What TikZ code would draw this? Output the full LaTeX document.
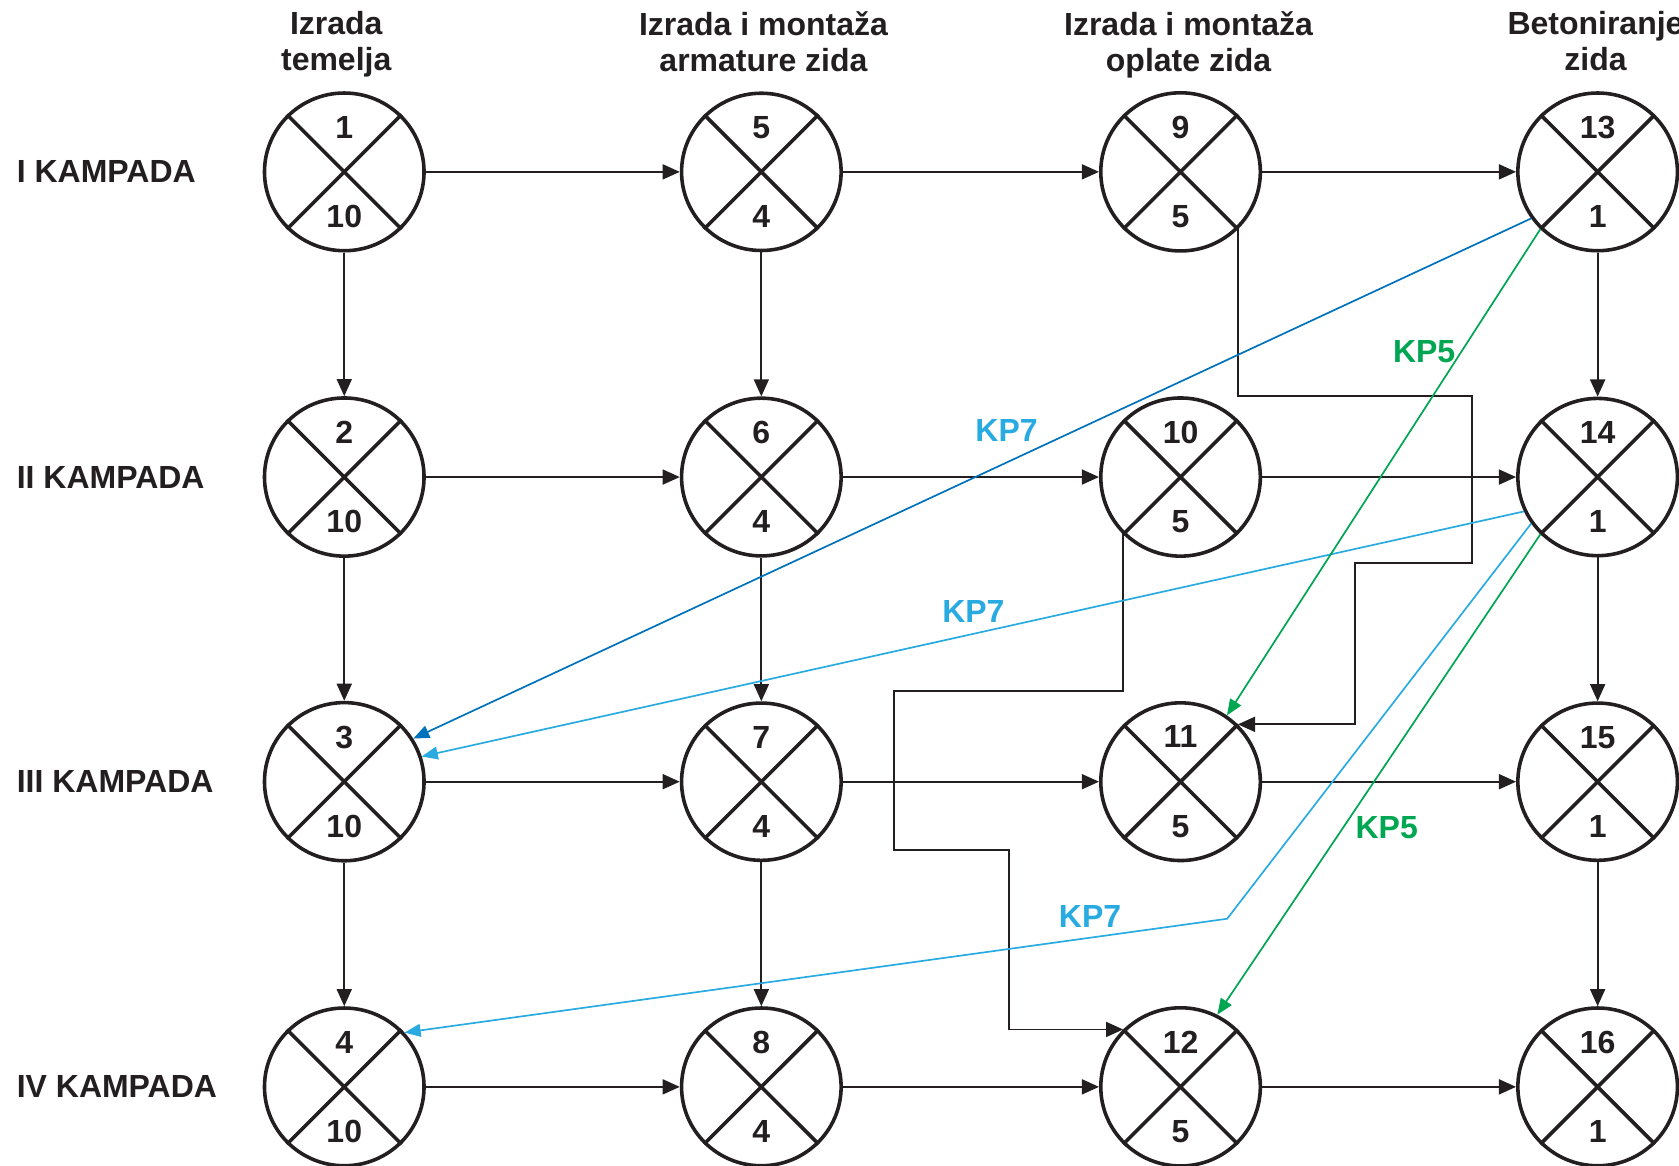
\documentclass[tikz,border=0pt]{standalone}
\usepackage{fontspec}
\setmainfont{Liberation Sans}
\usepackage{tikz}
\usetikzlibrary{shapes.geometric,arrows.meta}
\definecolor{ink}{RGB}{35,31,32}
\definecolor{kpblue}{RGB}{41,171,226}
\definecolor{kpdark}{RGB}{0,114,188}
\definecolor{kpgreen}{RGB}{0,166,81}

\begin{document}
\begin{tikzpicture}[
    txt/.style={font=\fontsize{8.5}{9.5}\selectfont\bfseries, inner sep=0pt, text=ink},
    stage/.style={txt, draw=ink, ellipse, line width=0.95pt,
      minimum width=1.49cm, minimum height=1.42cm, align=center},
    cross/.style={draw=ink, line width=0.95pt},
    conn/.style={draw=ink, line width=0.5pt, -{Triangle[length=1.6mm,width=1.4mm]}},
    kp/.style={line width=0.45pt, -{Triangle[length=1.5mm,width=1.2mm]}},
  ]
  \useasboundingbox (0,0) rectangle (15.68,-10.88);
  \clip (0,0) rectangle (15.68,-10.88);

  % column headers
  \node[txt, align=center, anchor=north] (h1) at (3.14,-0.10) {Izrada\\temelja};
  \node[txt, align=center, anchor=north] (h2) at (7.13,-0.10) {Izrada i montaža\\armature zida};
  \node[txt, align=center, anchor=north] (h3) at (11.10,-0.10) {Izrada i montaža\\oplate zida};
  \node[txt, align=center, anchor=north] (h4) at (14.90,-0.10) {Betoniranje\\zida};

  % row labels
  \node[txt, anchor=west] (r1) at (0.15,-1.605) {I KAMPADA};
  \node[txt, anchor=west] (r2) at (0.15,-4.455) {II KAMPADA};
  \node[txt, anchor=west] (r3) at (0.15,-7.30) {III KAMPADA};
  \node[txt, anchor=west] (r4) at (0.15,-10.15) {IV KAMPADA};

  % activities
  \node[stage] (n1) at (3.215,-1.605) {1\\[14.2pt]10};
  \node[stage] (n2) at (3.215,-4.455) {2\\[14.2pt]10};
  \node[stage] (n3) at (3.215,-7.30) {3\\[14.2pt]10};
  \node[stage] (n4) at (3.215,-10.15) {4\\[14.2pt]10};
  \node[stage] (n5) at (7.11,-1.605) {5\\[14.2pt]4};
  \node[stage] (n6) at (7.11,-4.455) {6\\[14.2pt]4};
  \node[stage] (n7) at (7.11,-7.30) {7\\[14.2pt]4};
  \node[stage] (n8) at (7.11,-10.15) {8\\[14.2pt]4};
  \node[stage] (n9) at (11.025,-1.605) {9\\[14.2pt]5};
  \node[stage] (n10) at (11.025,-4.455) {10\\[14.2pt]5};
  \node[stage] (n11) at (11.025,-7.30) {11\\[14.2pt]5};
  \node[stage] (n12) at (11.025,-10.15) {12\\[14.2pt]5};
  \node[stage] (n13) at (14.92,-1.605) {13\\[14.2pt]1};
  \node[stage] (n14) at (14.92,-4.455) {14\\[14.2pt]1};
  \node[stage] (n15) at (14.92,-7.30) {15\\[14.2pt]1};
  \node[stage] (n16) at (14.92,-10.15) {16\\[14.2pt]1};
  \foreach \n in {1,...,16}
    \draw[cross] (n\n.45) -- (n\n.225) (n\n.135) -- (n\n.315);

  % rows
  \draw[conn] (n1) -- (n5);
  \draw[conn] (n5) -- (n9);
  \draw[conn] (n9) -- (n13);
  \draw[conn] (n2) -- (n6);
  \draw[conn] (n6) -- (n10);
  \draw[conn] (n10) -- (n14);
  \draw[conn] (n3) -- (n7);
  \draw[conn] (n7) -- (n11);
  \draw[conn] (n11) -- (n15);
  \draw[conn] (n4) -- (n8);
  \draw[conn] (n8) -- (n12);
  \draw[conn] (n12) -- (n16);
  % columns
  \draw[conn] (n1) -- (n2);
  \draw[conn] (n2) -- (n3);
  \draw[conn] (n3) -- (n4);
  \draw[conn] (n5) -- (n6);
  \draw[conn] (n6) -- (n7);
  \draw[conn] (n7) -- (n8);
  \draw[conn] (n13) -- (n14);
  \draw[conn] (n14) -- (n15);
  \draw[conn] (n15) -- (n16);
  \draw[conn] (n9.315) |- (13.75,-3.70) |- (12.655,-5.26) |- (n11.45);
  \draw[conn] (n10.225) |- (8.345,-6.45) |- (9.42,-7.935) |- (n12.135);

  % critical links
  \coordinate (kink) at (11.46,-8.58);
  \draw[kp, kpdark] (n13.215) -- (n3.32);
  \draw[kp, kpblue] (n14.205) -- (n3.18);
  \draw[kp, kpblue] (n14.215) -- (kink) -- (n4.42);
  \draw[kp, kpgreen] (n13.225) -- (n11.55);
  \draw[kp, kpgreen] (n14.225) -- (n12.63);
  \node[txt, text=kpblue] (kp7a) at (9.40,-4.02) {KP7};
  \node[txt, text=kpblue] (kp7b) at (9.09,-5.71) {KP7};
  \node[txt, text=kpblue] (kp7c) at (10.18,-8.56) {KP7};
  \node[txt, text=kpgreen] (kp5a) at (13.30,-3.28) {KP5};
  \node[txt, text=kpgreen] (kp5b) at (12.95,-7.73) {KP5};
\end{tikzpicture}
\end{document}
